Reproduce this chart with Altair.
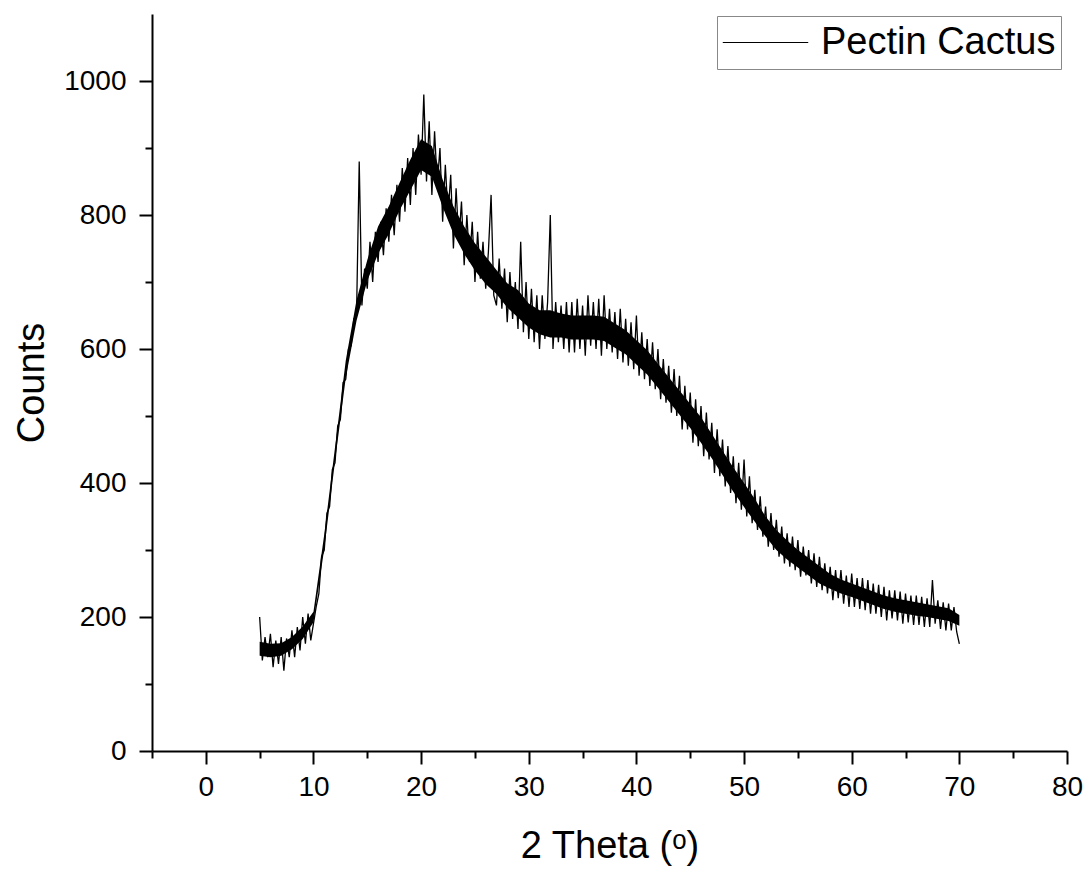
import altair as alt
import pandas as pd

# XRD scan: 2-theta from 5 to 70 deg, step 0.25 deg
start_angle = 5.0
step_angle = 0.25
series_name = "Pectin Cactus"

counts = [
    # 5
    200, 135, 170, 140,
    # 6
    175, 125, 165, 130,
    # 7
    170, 120, 168, 140,
    # 8
    180, 140, 185, 150,
    # 9
    200, 160, 205, 165,
    # 10
    190, 215, 235, 290,
    # 11
    300, 355, 365, 420,
    # 12
    430, 485, 495, 550,
    # 13
    555, 600, 605, 645,
    # 14
    650, 880, 665, 720,
    # 15
    690, 760, 700, 775,
    # 16
    730, 790, 740, 810,
    # 17
    760, 830, 770, 845,
    # 18
    790, 870, 805, 885,
    # 19
    815, 900, 830, 920,
    # 20
    860, 980, 850, 940,
    # 21
    830, 925, 845, 900,
    # 22
    790, 875, 800, 860,
    # 23
    750, 840, 760, 820,
    # 24
    725, 800, 730, 790,
    # 25
    700, 775, 705, 760,
    # 26
    690, 745, 830, 680,
    # 27
    665, 735, 660, 720,
    # 28
    640, 715, 645, 700,
    # 29
    630, 760, 625, 700,
    # 30
    615, 690, 610, 680,
    # 31
    600, 680, 615, 670,
    # 32
    800, 600, 670, 610,
    # 33
    665, 600, 670, 595,
    # 34
    670, 595, 675, 600,
    # 35
    665, 590, 680, 605,
    # 36
    670, 600, 675, 590,
    # 37
    680, 600, 660, 595,
    # 38
    655, 585, 660, 580,
    # 39
    645, 575, 640, 570,
    # 40
    650, 560, 625, 555,
    # 41
    615, 545, 610, 540,
    # 42
    600, 525, 585, 520,
    # 43
    575, 505, 570, 500,
    # 44
    560, 480, 545, 480,
    # 45
    535, 460, 525, 455,
    # 46
    515, 440, 505, 435,
    # 47
    490, 415, 480, 410,
    # 48
    465, 395, 455, 385,
    # 49
    440, 370, 430, 360,
    # 50
    435, 350, 410, 340,
    # 51
    390, 330, 380, 320,
    # 52
    365, 305, 355, 300,
    # 53
    345, 290, 335, 280,
    # 54
    325, 275, 320, 270,
    # 55
    315, 260, 305, 262,
    # 56
    300, 250, 295, 245,
    # 57
    290, 240, 280, 235,
    # 58
    275, 225, 270, 228,
    # 59
    270, 220, 262, 215,
    # 60
    265, 215, 258, 212,
    # 61
    258, 210, 255, 205,
    # 62
    250, 205, 248, 200,
    # 63
    245, 195, 240, 198,
    # 64
    240, 195, 238, 190,
    # 65
    235, 192, 232, 188,
    # 66
    232, 188, 230, 185,
    # 67
    228, 185, 255, 190,
    # 68
    225, 182, 222, 180,
    # 69
    220, 180, 215, 178,
    # 70
    160,
]

# dense (solid) core of the noisy trace, read at every whole degree 5..70
core_angle = list(range(5, 71))
core_low = [142, 140, 142, 152, 167, 192, 302, 432, 557, 642,
            702, 742, 772, 807, 837, 867, 857, 812, 772, 742,
            717, 697, 682, 662, 647, 632, 622, 617, 617, 614,
            614, 614, 612, 602, 592, 577, 562, 542, 522, 502,
            482, 460, 437, 412, 387, 364, 342, 320, 300, 286,
            274, 262, 250, 242, 235, 230, 224, 218, 212, 208,
            205, 202, 200, 197, 194, 187]
core_high = [163, 160, 161, 170, 186, 208, 323, 453, 583, 673,
             733, 783, 813, 848, 883, 913, 903, 853, 813, 783,
             758, 738, 718, 698, 688, 668, 658, 658, 653, 650,
             650, 650, 648, 638, 628, 613, 598, 578, 558, 538,
             518, 498, 473, 448, 423, 400, 376, 350, 330, 314,
             300, 288, 276, 264, 256, 250, 244, 238, 232, 228,
             225, 222, 219, 216, 213, 203]

x_major = [0, 10, 20, 30, 40, 50, 60, 70, 80]
x_minor = [-5, 5, 15, 25, 35, 45, 55, 65, 75]
y_major = [0, 200, 400, 600, 800, 1000]
y_minor = [100, 300, 500, 700, 900]

df = pd.DataFrame({
    "theta": [start_angle + i * step_angle for i in range(len(counts))],
    "counts": counts,
    "series": [series_name] * len(counts),
})
core = pd.DataFrame({"theta": core_angle, "low": core_low, "high": core_high})

FONT = "Liberation Sans"
xscale = alt.Scale(domain=[-5, 80], nice=False, zero=False)
yscale = alt.Scale(domain=[0, 1100], nice=False)

main = alt.Chart(df).mark_line(strokeWidth=1.3, interpolate="linear").encode(
    x=alt.X("theta:Q", scale=xscale,
            axis=alt.Axis(values=x_major, title="2 Theta (ᵒ)", orient="bottom",
                          tickSize=13, labelPadding=9, titlePadding=26,
                          labelFlush=False, grid=False)),
    y=alt.Y("counts:Q", scale=yscale,
            axis=alt.Axis(values=y_major, title="Counts", orient="left", format="d",
                          tickSize=13, labelPadding=13, titlePadding=12,
                          labelFlush=False, grid=False)),
    color=alt.Color("series:N", scale=alt.Scale(range=["black"]),
                    legend=alt.Legend(title=None, orient="none", legendX=565, legendY=2,
                                      symbolType="stroke", symbolSize=7300,
                                      symbolStrokeWidth=1, labelFontSize=38,
                                      labelFont=FONT, labelColor="black", labelLimit=0,
                                      strokeColor="#888888", padding=5,
                                      clipHeight=43, labelOffset=12)),
)

band = alt.Chart(core).mark_area(color="black", opacity=1).encode(
    x=alt.X("theta:Q", scale=xscale, axis=None),
    y=alt.Y("low:Q", scale=yscale, axis=None),
    y2="high:Q",
)

minor = alt.Chart(df).mark_line(opacity=0).encode(
    x=alt.X("theta:Q", scale=xscale,
            axis=alt.Axis(values=x_minor, title=None, labels=False, orient="bottom",
                          tickSize=7, domain=False, grid=False)),
    y=alt.Y("counts:Q", scale=yscale,
            axis=alt.Axis(values=y_minor, title=None, labels=False, orient="left",
                          tickSize=7, domain=False, grid=False)),
)

chart = alt.layer(main, band, minor).resolve_axis(x="independent", y="independent").properties(
    width=915, height=737,
    autosize=alt.AutoSizeParams(type="none"),
    padding={"left": 152, "top": 14, "right": 22, "bottom": 124},
    background="white",
).configure_view(stroke=None).configure_axis(
    domainColor="black", domainWidth=2, tickColor="black", tickWidth=2,
    labelFont=FONT, labelFontSize=28, labelColor="black",
    titleFont=FONT, titleFontSize=38, titleFontWeight="normal", titleColor="black",
)

chart.save("out.html", embed_options={"renderer": "svg", "actions": False})
